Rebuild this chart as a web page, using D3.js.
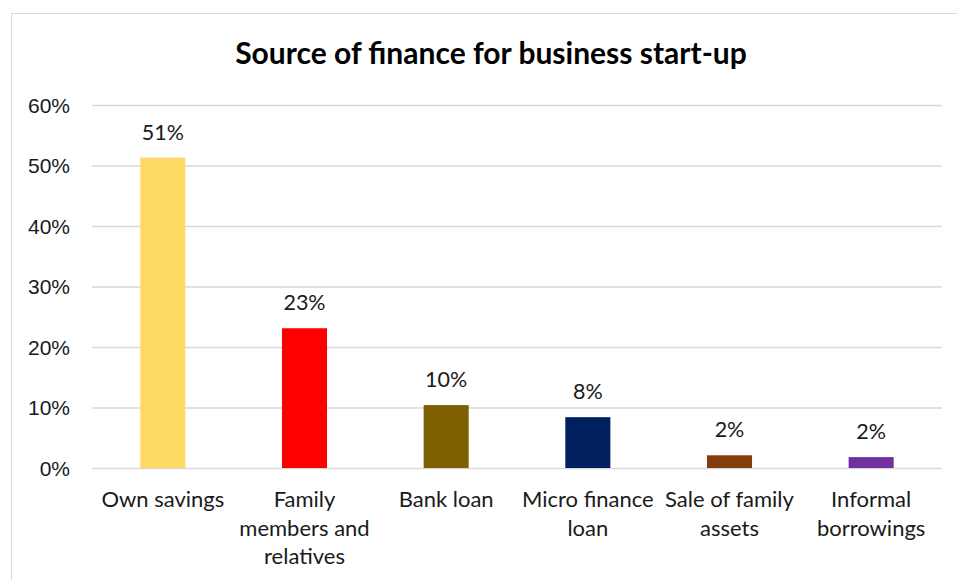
<!DOCTYPE html>
<html>
<head>
<meta charset="utf-8">
<script src="https://cdn.jsdelivr.net/npm/d3@7"></script>
<style>
  html, body { margin: 0; padding: 0; background: #fff; }
  svg { display: block; font-family: Lato, "Open Sans", sans-serif; }
</style>
</head>
<body>
<svg id="chart" width="957" height="580"></svg>
<script>
// Source of finance for business start-up (share of respondents, %)
const categories = [
  ["Own savings"],
  ["Family", "members and", "relatives"],
  ["Bank loan"],
  ["Micro finance", "loan"],
  ["Sale of family", "assets"],
  ["Informal", "borrowings"]
];
const values = [51.3, 23.1, 10.4, 8.4, 2.1, 1.8];
const barColors = ["#FFD966", "#FF0000", "#7F6000", "#002060", "#843C0C", "#7030A0"];
const yTicks = [0, 10, 20, 30, 40, 50, 60];
const titleText = "Source of finance for business start-up";

const svg = d3.select("#chart");
const W = 957, H = 580;
const plot = { left: 92, right: 942, top: 105, bottom: 468 };

// chart frame
svg.append("rect")
  .attr("x", 11.5).attr("y", 13.5)
  .attr("width", W + 20).attr("height", H + 20)
  .attr("fill", "#fff").attr("stroke", "#d9d9d9").attr("stroke-width", 1);

const x = d3.scaleBand()
  .domain(d3.range(categories.length))
  .range([plot.left, plot.right])
  .paddingInner(0.682)
  .paddingOuter(0.341);

const y = d3.scaleLinear()
  .domain([0, 60])
  .range([plot.bottom, plot.top]);

// gridlines + y tick labels
const yAxis = d3.axisLeft(y)
  .tickValues(yTicks)
  .tickSize(-(plot.right - plot.left))
  .tickPadding(22)
  .tickFormat(d => d + "%");

const gy = svg.append("g")
  .attr("transform", `translate(${plot.left},0)`)
  .call(yAxis);
gy.select(".domain").remove();
gy.selectAll(".tick line").attr("stroke", "#d9d9d9").attr("stroke-width", 1.5);
gy.selectAll(".tick text")
  .attr("fill", "#1a1a1a")
  .style("font-size", "21px")
  .attr("dy", "0.35em");

// bars
svg.append("g").selectAll("rect")
  .data(values)
  .join("rect")
  .attr("x", (d, i) => x(i))
  .attr("y", d => y(d))
  .attr("width", x.bandwidth())
  .attr("height", d => y(0) - y(d))
  .attr("fill", (d, i) => barColors[i]);

// value labels
svg.append("g").selectAll("text")
  .data(values)
  .join("text")
  .attr("x", (d, i) => x(i) + x.bandwidth() / 2)
  .attr("y", d => y(d) - 18)
  .attr("text-anchor", "middle")
  .attr("fill", "#1a1a1a")
  .style("font-size", "21.5px")
  .text(d => Math.round(d) + "%");

// category labels
const xl = svg.append("g").selectAll("text")
  .data(categories)
  .join("text")
  .attr("x", (d, i) => x(i) + x.bandwidth() / 2)
  .attr("y", 507)
  .attr("text-anchor", "middle")
  .attr("fill", "#1a1a1a")
  .style("font-size", "22px");
xl.selectAll("tspan")
  .data(d => d)
  .join("tspan")
  .attr("x", function () { return this.parentNode.getAttribute("x"); })
  .attr("dy", (d, i) => i === 0 ? 0 : 28.5)
  .text(d => d);

// title
svg.append("text")
  .attr("x", 491)
  .attr("y", 64)
  .attr("text-anchor", "middle")
  .attr("fill", "#000")
  .style("font-size", "30px")
  .style("font-weight", "bold")
  .text(titleText);
</script>
</body>
</html>
